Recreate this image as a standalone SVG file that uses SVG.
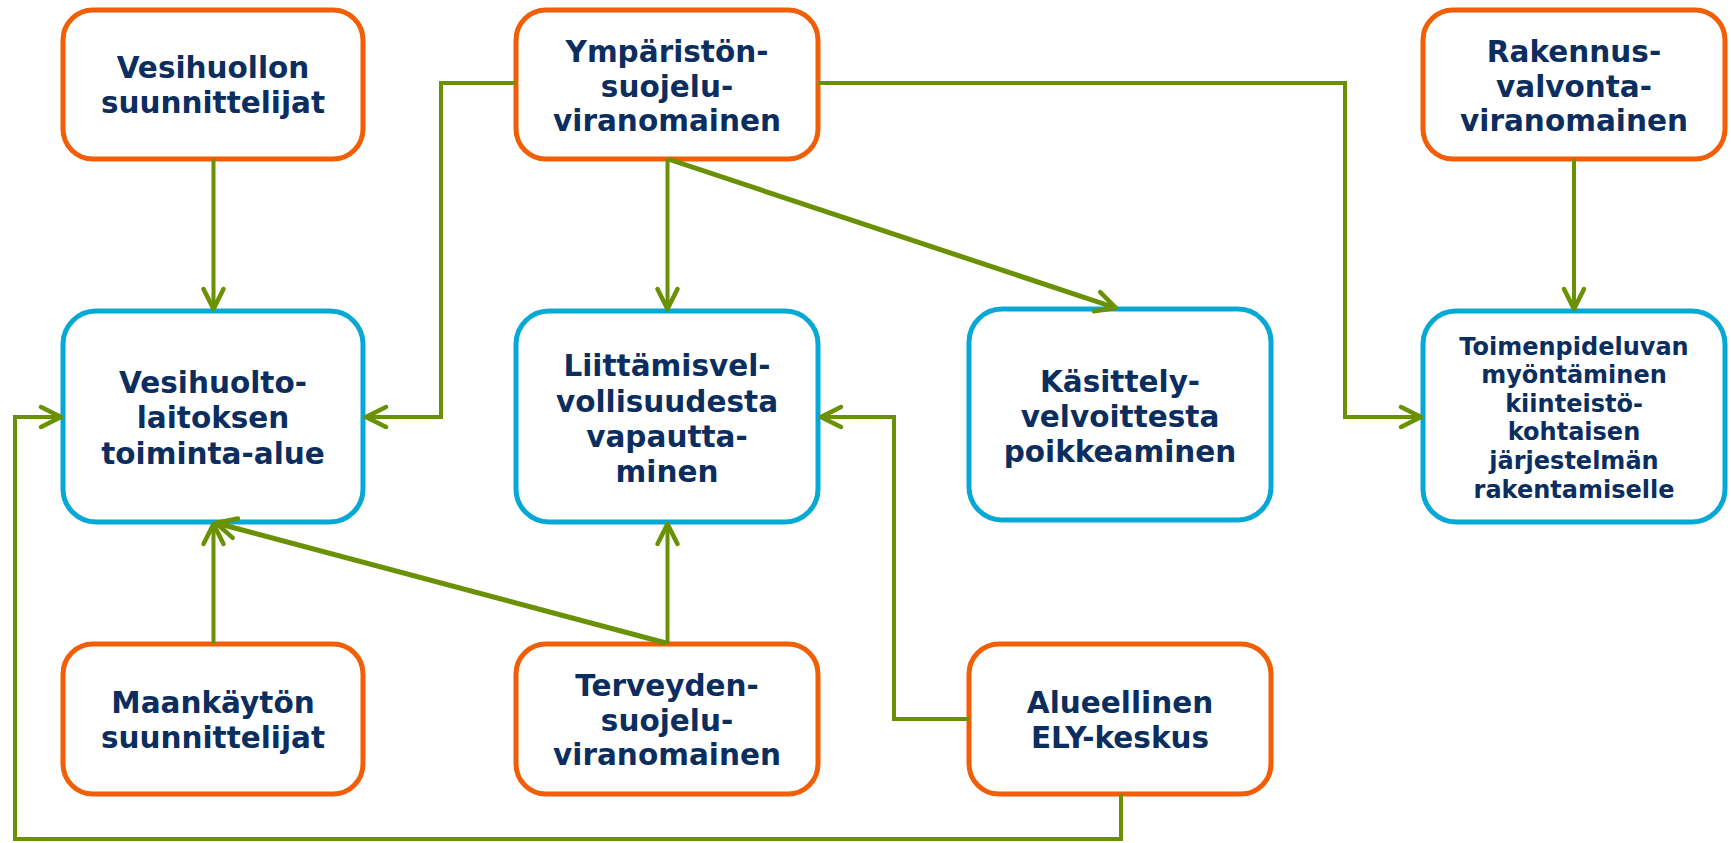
<svg xmlns="http://www.w3.org/2000/svg" width="1731" height="843" viewBox="0 0 1731 843">
<style>
  .src rect { fill: #ffffff; stroke: #F25E05; stroke-width: 5; }
  .dst rect { fill: #ffffff; stroke: #08A8D6; stroke-width: 5; }
  text { font-family: "DejaVu Sans", Verdana, sans-serif; font-weight: bold; fill: #0B2E5F; text-anchor: middle; }
  .big { font-size: 29.5px; }
  .small { font-size: 24px; }
  .conn path { fill: none; stroke: #6A9103; stroke-width: 4; stroke-linejoin: miter; }
  .conn path.diag { stroke-width: 5; }
</style>
<defs>
  <marker id="arr" markerUnits="userSpaceOnUse" markerWidth="1" markerHeight="1" refX="0" refY="0" orient="auto" overflow="visible">
    <path d="M-20,-10 L0,0 L-20,10" fill="none" stroke="#6A9103" stroke-width="4.5" stroke-linecap="round" stroke-linejoin="round"/>
  </marker>
</defs>
<rect width="1731" height="843" fill="#ffffff"/>

<g id="vesihuollon-suunnittelijat" class="src">
  <rect x="63" y="10" width="300" height="149" rx="30"/>
  <text class="big" x="213" y="78">Vesihuollon</text>
  <text class="big" x="213" y="113">suunnittelijat</text>
</g>
<g id="ymparistonsuojeluviranomainen" class="src">
  <rect x="516" y="10" width="302" height="149" rx="30"/>
  <text class="big" x="667" y="62">Ympäristön-</text>
  <text class="big" x="667" y="97">suojelu-</text>
  <text class="big" x="667" y="131">viranomainen</text>
</g>
<g id="rakennusvalvontaviranomainen" class="src">
  <rect x="1423" y="10" width="302" height="149" rx="30"/>
  <text class="big" x="1574" y="62">Rakennus-</text>
  <text class="big" x="1574" y="97">valvonta-</text>
  <text class="big" x="1574" y="131">viranomainen</text>
</g>

<g id="vesihuoltolaitoksen-toiminta-alue" class="dst">
  <rect x="63" y="311" width="300" height="211" rx="33"/>
  <text class="big" x="213" y="393">Vesihuolto-</text>
  <text class="big" x="213" y="428">laitoksen</text>
  <text class="big" x="213" y="464">toiminta-alue</text>
</g>
<g id="liittamisvelvollisuudesta-vapauttaminen" class="dst">
  <rect x="516" y="311" width="302" height="211" rx="33"/>
  <text class="big" x="667" y="376">Liittämisvel-</text>
  <text class="big" x="667" y="412">vollisuudesta</text>
  <text class="big" x="667" y="447">vapautta-</text>
  <text class="big" x="667" y="482">minen</text>
</g>
<g id="kasittelyvelvoitteesta-poikkeaminen" class="dst">
  <rect x="969" y="309" width="302" height="211" rx="33"/>
  <text class="big" x="1120" y="392">Käsittely-</text>
  <text class="big" x="1120" y="427">velvoittesta</text>
  <text class="big" x="1120" y="462">poikkeaminen</text>
</g>
<g id="toimenpideluvan-myontaminen" class="dst">
  <rect x="1423" y="311" width="302" height="211" rx="33"/>
  <text class="small" x="1574" y="355">Toimenpideluvan</text>
  <text class="small" x="1574" y="383">myöntäminen</text>
  <text class="small" x="1574" y="412">kiinteistö-</text>
  <text class="small" x="1574" y="440">kohtaisen</text>
  <text class="small" x="1574" y="469">järjestelmän</text>
  <text class="small" x="1574" y="498">rakentamiselle</text>
</g>

<g id="maankayton-suunnittelijat" class="src">
  <rect x="63" y="644" width="300" height="150" rx="30"/>
  <text class="big" x="213" y="713">Maankäytön</text>
  <text class="big" x="213" y="748">suunnittelijat</text>
</g>
<g id="terveydensuojeluviranomainen" class="src">
  <rect x="516" y="644" width="302" height="150" rx="30"/>
  <text class="big" x="667" y="696">Terveyden-</text>
  <text class="big" x="667" y="731">suojelu-</text>
  <text class="big" x="667" y="765">viranomainen</text>
</g>
<g id="alueellinen-ely-keskus" class="src">
  <rect x="969" y="644" width="302" height="150" rx="30"/>
  <text class="big" x="1120" y="713">Alueellinen</text>
  <text class="big" x="1120" y="748">ELY-keskus</text>
</g>

<g id="connectors" class="conn">
  <path d="M213.5,159 V309" marker-end="url(#arr)"/>
  <path d="M516,83 H441 V417 H366" marker-end="url(#arr)"/>
  <path d="M818,83 H1345 V417 H1421" marker-end="url(#arr)"/>
  <path d="M667.5,159 V309" marker-end="url(#arr)"/>
  <path class="diag" d="M668,159 L1116,308" marker-end="url(#arr)"/>
  <path d="M1574,159 V309" marker-end="url(#arr)"/>
  <path d="M213.5,644 V524" marker-end="url(#arr)"/>
  <path d="M667.5,644 V524" marker-end="url(#arr)"/>
  <path class="diag" d="M666,643 L216,523" marker-end="url(#arr)"/>
  <path d="M969,719 H894 V417 H821" marker-end="url(#arr)"/>
  <path d="M1121,794 V839 H15 V417 H61" marker-end="url(#arr)"/>
</g>
</svg>
